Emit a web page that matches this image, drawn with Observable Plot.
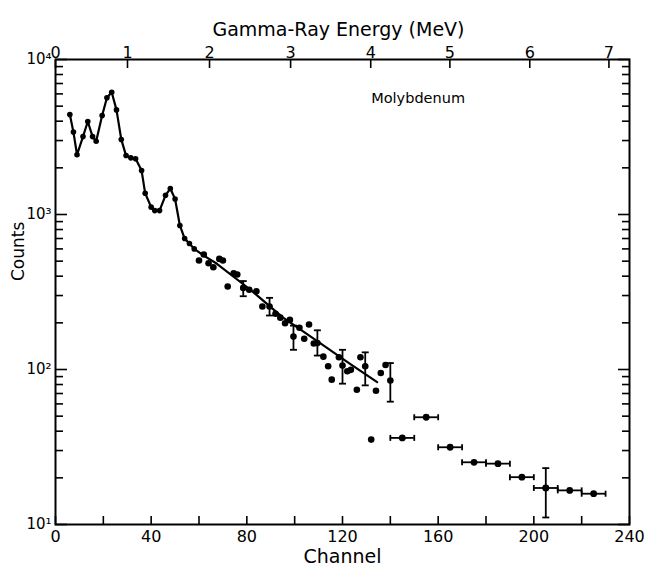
<!DOCTYPE html>
<html>
<head>
<meta charset="utf-8">
<script src="https://cdn.jsdelivr.net/npm/d3@7"></script>
<script src="https://cdn.jsdelivr.net/npm/@observablehq/plot@0.6"></script>
<style>
  body { margin: 0; background: #fff; }
</style>
</head>
<body>
<div id="chart"></div>
<script>
// Molybdenum gamma-ray spectrum: counts per channel.

// Low-energy region, joined point to point
const peakChannel = [6, 7.5, 9, 11.5, 13.5, 15.5, 17, 19.5, 21.5, 23.5, 25.5, 27.5, 29.5, 31.5, 33.5, 36, 37.5, 40, 41.5, 43.5, 46, 48, 50, 52, 54, 56, 58];
const peakCounts  = [4420, 3400, 2430, 3180, 3980, 3180, 2970, 4350, 5660, 6150, 4730, 3050, 2400, 2320, 2290, 1920, 1370, 1115, 1060, 1060, 1330, 1470, 1260, 850, 700, 650, 600];

// Smooth trend through the continuum
const trendChannel = [62, 67.5, 81.5, 95, 109, 123, 134.5];
const trendCounts  = [543, 481, 327, 217, 154, 109, 83];

// Continuum points without error bars
const tailChannel = [60, 62, 64, 66, 68.5, 70, 72, 74.5, 76, 81, 84, 86.5, 92, 94, 96, 98, 102, 104, 106, 108, 112, 114, 115.5, 118.5, 122, 123.5, 126, 127.5, 134, 136, 138, 132];
const tailCounts  = [505, 552, 485, 457, 517, 505, 343, 418, 410, 327, 320, 255, 229, 216, 199, 209, 186, 158, 195, 147, 121, 105, 86, 120, 97.5, 99.5, 74, 120, 73, 95, 107, 35.3];

// Points carrying statistical error bars
const errChannel = [78.5, 89.5, 99.5, 109.5, 120, 129.5, 140, 205];
const errCounts  = [336, 255, 163, 148, 106, 105, 85, 17.2];
const errLow     = [297, 223, 134, 123, 81, 79, 62, 11.1];
const errHigh    = [372, 290, 192, 179, 134, 129, 110, 23.1];

// High-energy points summed over ten-channel bins
const binStart  = [140, 150, 160, 170, 180, 190, 200, 210, 220];
const binEnd    = [150, 160, 170, 180, 190, 200, 210, 220, 230];
const binCounts = [36.2, 49.2, 31.5, 25.2, 24.7, 20.2, 17.2, 16.6, 15.8];

// Axis ticks
const channelTicks  = [0, 20, 40, 60, 80, 100, 120, 140, 160, 180, 200, 220, 240];
const channelLabels = [0, 40, 80, 120, 160, 200, 240];
const energyLabels  = ["0", "1", "2", "3", "4", "5", "6", "7"];
const energyChannel = [0, 30.1, 64.4, 98.3, 131.8, 164.9, 198.3, 231.4];
const decades = [10, 100, 1000, 10000];
const decadeLabels = ["10¹", "10²", "10³", "10⁴"];

const minorTicks = decades.slice(0, -1).flatMap(d => [2, 3, 4, 5, 6, 7, 8, 9].map(k => k * d));

const zip = (xs, ys) => xs.map((x, i) => ({x, y: ys[i]}));
const peak = zip(peakChannel, peakCounts);
const curve = peak.concat(zip(trendChannel, trendCounts));
const tail = zip(tailChannel, tailCounts);
const errs = errChannel.map((x, i) => ({x, y: errCounts[i], lo: errLow[i], hi: errHigh[i]}));
const bins = binStart.map((s, i) => ({x: (s + binEnd[i]) / 2, x1: s, x2: binEnd[i], y: binCounts[i]}));

// Short cap symbols for the error bars
const capH = {draw(ctx, size) { const r = Math.sqrt(size / Math.PI); ctx.moveTo(-r, 0); ctx.lineTo(r, 0); }};
const capV = {draw(ctx, size) { const r = Math.sqrt(size / Math.PI); ctx.moveTo(0, -r); ctx.lineTo(0, r); }};

const font = "'DejaVu Sans', 'Liberation Sans', sans-serif";

const chart = Plot.plot({
  width: 647,
  height: 572,
  marginLeft: 55,
  marginRight: 18,
  marginTop: 59,
  marginBottom: 48,
  style: {fontFamily: font, fontSize: "15px", color: "black", background: "white"},
  x: {domain: [0, 240]},
  y: {type: "log", domain: [10, 10000]},
  marks: [
    // inward ticks on all four sides
    Plot.axisX({anchor: "bottom", ticks: channelTicks, tickSize: -8, tickPadding: 14, strokeWidth: 1.6,
      tickFormat: d => channelLabels.includes(d) ? String(d) : "", fontSize: 16, label: null}),
    Plot.axisX({anchor: "top", ticks: energyChannel, tickSize: -8, tickPadding: 10, strokeWidth: 1.6,
      tickFormat: d => energyLabels[energyChannel.indexOf(d)], fontSize: 16, label: null}),
    Plot.axisY({anchor: "left", ticks: decades, tickSize: -12, tickPadding: 16, strokeWidth: 1.6,
      tickFormat: d => decadeLabels[decades.indexOf(d)], fontSize: 15, label: null}),
    Plot.axisY({anchor: "left", ticks: minorTicks, tickSize: -8, strokeWidth: 1.6, tickFormat: () => "", label: null}),
    Plot.axisY({anchor: "right", ticks: decades, tickSize: -12, strokeWidth: 1.6, tickFormat: () => "", label: null}),
    Plot.axisY({anchor: "right", ticks: minorTicks, tickSize: -8, strokeWidth: 1.6, tickFormat: () => "", label: null}),
    Plot.frame({stroke: "black", strokeWidth: 2}),

    // axis titles
    Plot.text(["Gamma-Ray Energy (MeV)"], {frameAnchor: "top", dy: -37, dx: -4, text: d => d, fontSize: 19, letterSpacing: "1px"}),
    Plot.text(["Channel"], {frameAnchor: "bottom", dy: 38, text: d => d, fontSize: 19, letterSpacing: "1px"}),
    Plot.text(["Counts"], {frameAnchor: "left", dx: -37, dy: -11, rotate: -90, text: d => d, fontSize: 17}),
    Plot.text(["Molybdenum"], {x: () => 132, y: () => 5600, text: d => d, textAnchor: "start", fontSize: 14.5}),

    // spectrum
    Plot.line(curve, {x: "x", y: "y", stroke: "black", strokeWidth: 2.2}),
    Plot.dot(peak, {x: "x", y: "y", r: 2.8, fill: "black"}),
    Plot.dot(tail, {x: "x", y: "y", r: 3.3, fill: "black"}),

    // vertical error bars
    Plot.ruleX(errs, {x: "x", y1: "lo", y2: "hi", stroke: "black", strokeWidth: 1.8}),
    Plot.dot(errs, {x: "x", y: "lo", symbol: capH, r: 3.5, fill: "none", stroke: "black", strokeWidth: 1.8}),
    Plot.dot(errs, {x: "x", y: "hi", symbol: capH, r: 3.5, fill: "none", stroke: "black", strokeWidth: 1.8}),
    Plot.dot(errs, {x: "x", y: "y", r: 3.3, fill: "black"}),

    // binned points with horizontal extent
    Plot.ruleY(bins, {y: "y", x1: "x1", x2: "x2", stroke: "black", strokeWidth: 1.8}),
    Plot.dot(bins, {x: "x1", y: "y", symbol: capV, r: 3, fill: "none", stroke: "black", strokeWidth: 1.8}),
    Plot.dot(bins, {x: "x2", y: "y", symbol: capV, r: 3, fill: "none", stroke: "black", strokeWidth: 1.8}),
    Plot.dot(bins, {x: "x", y: "y", r: 3.4, fill: "black"})
  ]
});

document.getElementById("chart").append(chart);
</script>
</body>
</html>
